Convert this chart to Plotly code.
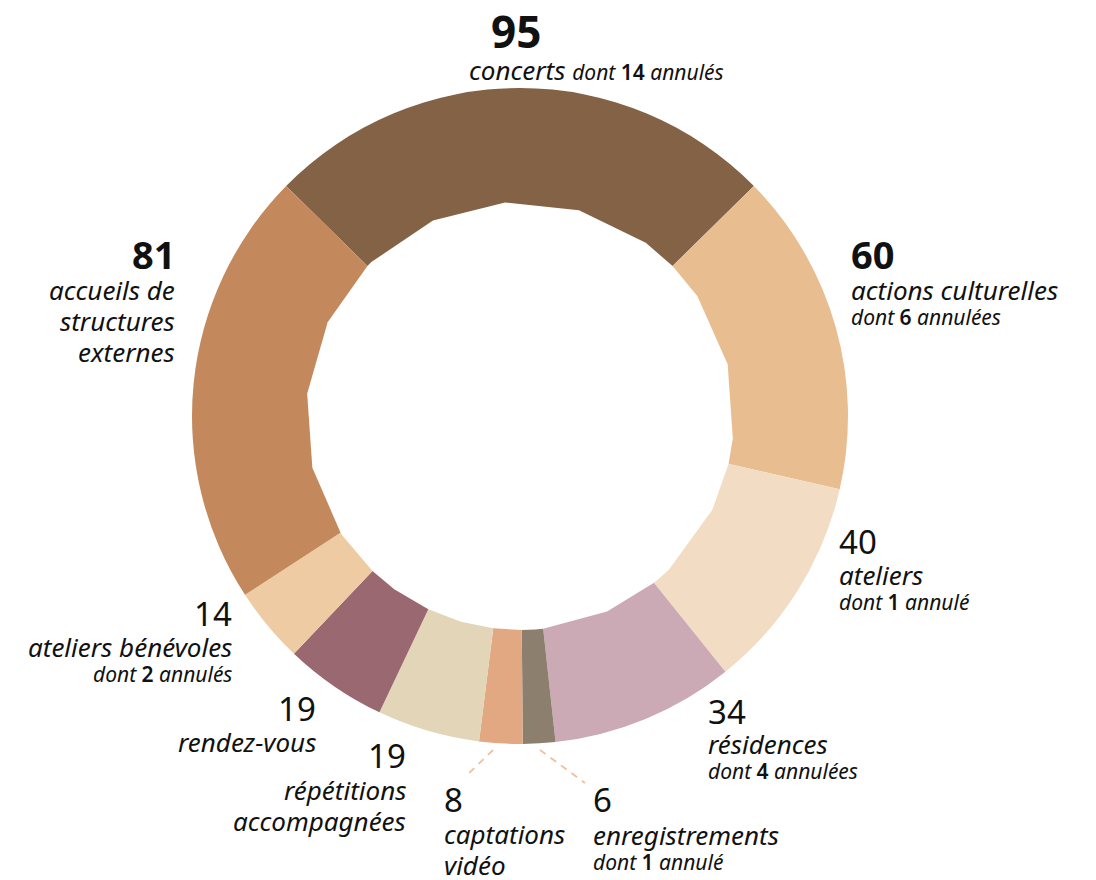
import math
import plotly.graph_objects as go

# data, clockwise from the top
labels = ["concerts", "actions culturelles", "ateliers", "résidences", "enregistrements",
          "captations vidéo", "répétitions accompagnées", "rendez-vous",
          "ateliers bénévoles", "accueils de structures externes"]
values = [95, 60, 40, 34, 6, 8, 19, 19, 14, 81]
cancelled = [14, 6, 1, 4, 1, 0, 0, 0, 2, 0]
colors = ["#846246", "#E8BD90", "#F3DCC4", "#CBAAB5", "#8C7F6E",
          "#E2A882", "#E3D5B7", "#9A6870", "#EECBA2", "#C3885C"]

# the page body adds an 8px margin, so the figure is drawn 8px smaller
OFF = 8
W, H = 1096 - OFF, 880 - OFF
FONT = "Noto Sans, Open Sans, DejaVu Sans, sans-serif"

def px(x, y):
    # page pixel -> paper coords
    return (x - OFF) / W, 1 - (y - OFF) / H

total = sum(values)
start = -values[0] / total * 360 / 2
cx, cy, r = 520, 416, 328
(dx0, dy1), (dx1, dy0) = px(cx - r, cy - r), px(cx + r, cy + r)

fig = go.Figure(go.Pie(
    labels=labels, values=values, sort=False, direction="clockwise",
    rotation=start,
    hole=0.6, textinfo="none", hoverinfo="label+value",
    marker=dict(colors=colors, line=dict(width=0)),
    domain=dict(x=[dx0, dx1], y=[dy0, dy1]),
    showlegend=False,
))

# coarse, faceted hole like the original: vertices every 20deg plus at slice edges
r_in = 214
angles = [-4 + 20 * k for k in range(18)]
acc = start
for v in values:
    angles.append(acc % 360)
    acc += v / total * 360
angles = sorted(a % 360 for a in angles)
pts = []
for a in angles:
    t = math.radians(a)
    pts.append(px(cx + r_in * math.sin(t), cy - r_in * math.cos(t)))
path = "M " + " L ".join("%.5f,%.5f" % p for p in pts) + " Z"
fig.add_shape(type="path", path=path, xref="paper", yref="paper",
              fillcolor="white", line=dict(width=0), layer="above")

def note(x, y, text, size, anchor, bold=False, italic=True):
    fx, fy = px(x, y)
    fig.add_annotation(x=fx, y=fy, xref="paper", yref="paper", text=text,
                       showarrow=False, xanchor=anchor, yanchor="middle", align=anchor,
                       borderpad=0,
                       font=dict(family=FONT, size=size, color="#111",
                                 style="italic" if italic else "normal",
                                 weight=700 if bold else 400))

def dont(n, plural):
    s = "s" if n > 1 else ""
    return ("dont <span style='font-style:normal;font-weight:600'>%d</span> annulé%s%s"
            % (n, "e" if plural else "", s))

LBL, DNT = 26, 21

# label layout: number x, number center y, number size, anchor, first label baseline
place = {
    0: (490, 31, 44, "left", 79),
    1: (850, 254, 38, "left", 299),
    2: (838, 541, 33, "left", 584),
    3: (707, 711, 33, "left", 753),
    4: (592, 799, 33, "left", 844),
    5: (443, 799, 33, "left", 843),
    6: (407, 755, 33, "right", 799),
    7: (317, 708, 33, "right", 751),
    8: (233, 613, 33, "right", 656),
    9: (176, 254, 38, "right", 299),
}
text_lines = {
    0: ["concerts <span style='font-size:%dpx'>%s</span>" % (DNT, dont(cancelled[0], False))],
    1: ["actions culturelles"],
    2: ["ateliers"],
    3: ["résidences"],
    4: ["enregistrements"],
    5: ["captations", "vidéo"],
    6: ["répétitions", "accompagnées"],
    7: ["rendez-vous"],
    8: ["ateliers bénévoles"],
    9: ["accueils de", "structures", "externes"],
}
plural = {1: True, 2: False, 3: True, 4: False, 8: False}

for i, v in enumerate(values):
    x, y, s, a, base = place[i]
    note(x, y, str(v), s, a, bold=v >= 60, italic=False)
    lx = 468 if i == 0 else x
    for k, line in enumerate(text_lines[i]):
        note(lx, base + 31 * k - 9, line, LBL, a)
    if i in plural:
        last = base + 31 * (len(text_lines[i]) - 1)
        note(x, last + 25 - 7, dont(cancelled[i], plural[i]), DNT, a)

# dashed leader lines for the two thin slices
for (x0, y0, x1, y1) in [(493, 750, 465, 777), (540, 750, 585, 783)]:
    a0, b0 = px(x0, y0)
    a1, b1 = px(x1, y1)
    fig.add_shape(type="line", xref="paper", yref="paper", x0=a0, y0=b0, x1=a1, y1=b1,
                  line=dict(color="#F2BF98", width=1.8, dash="7px,6px"))

fig.update_layout(width=W, height=H, margin=dict(l=0, r=0, t=0, b=0),
                  paper_bgcolor="white", plot_bgcolor="white")

fig.write_html("out.html")
